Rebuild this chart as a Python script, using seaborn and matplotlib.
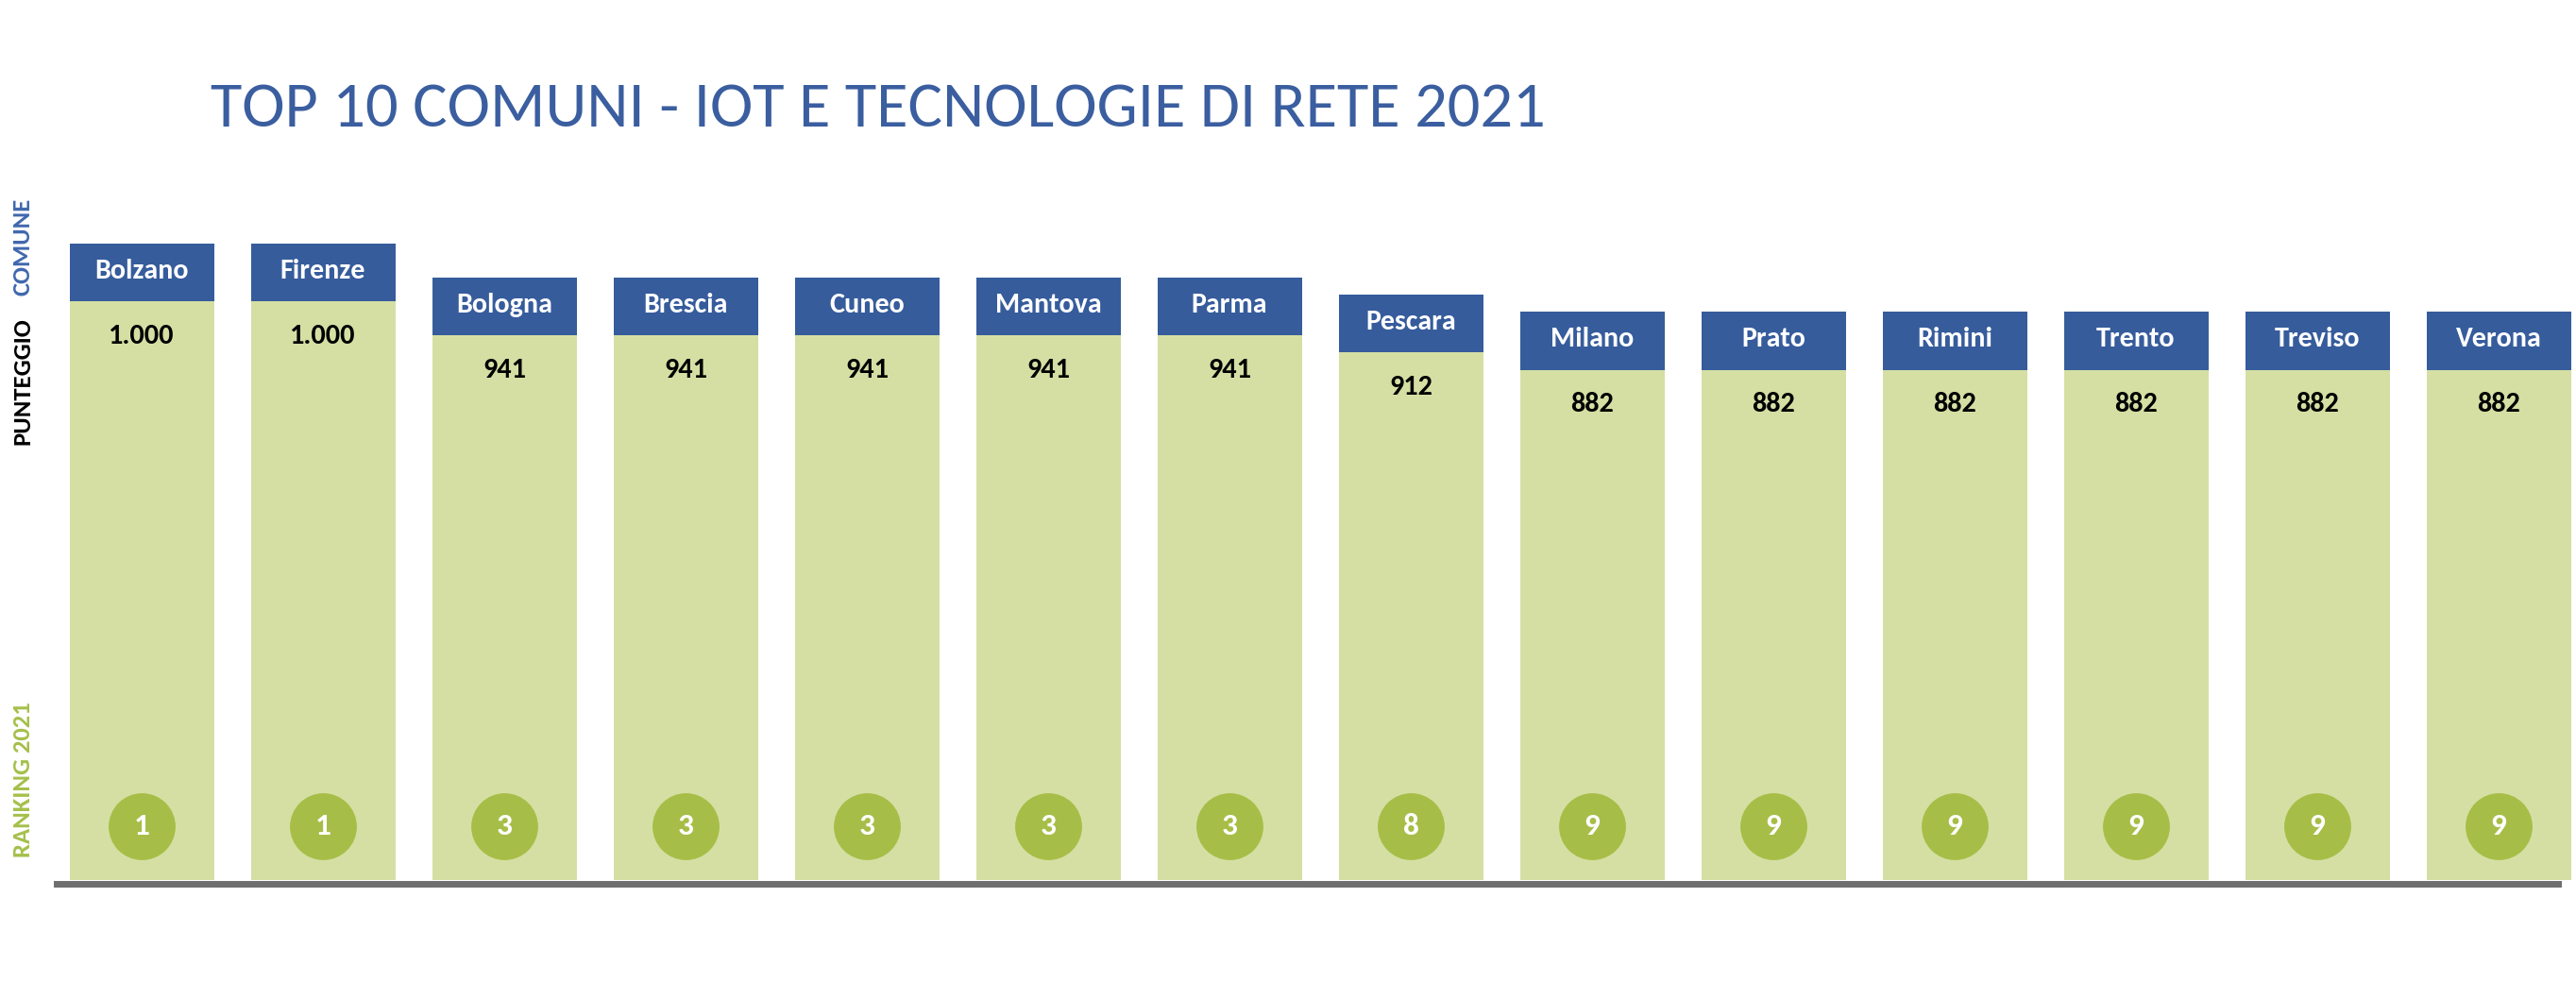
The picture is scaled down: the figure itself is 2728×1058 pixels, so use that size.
import numpy as np
import pandas as pd
import matplotlib
matplotlib.use("Agg")
import matplotlib.pyplot as plt
import seaborn as sns
from matplotlib import font_manager as fm

# ---------------- data ----------------
cities = ["Bolzano", "Firenze", "Bologna", "Brescia", "Cuneo", "Mantova", "Parma",
          "Pescara", "Milano", "Prato", "Rimini", "Trento", "Treviso", "Verona"]
scores = [1000, 1000, 941, 941, 941, 941, 941, 912, 882, 882, 882, 882, 882, 882]
ranks = [1, 1, 3, 3, 3, 3, 3, 8, 9, 9, 9, 9, 9, 9]
title_text = "TOP 10 COMUNI - IOT E TECNOLOGIE DI RETE 2021"
side_labels = ["COMUNE", "PUNTEGGIO", "RANKING 2021"]

# ---------------- style ----------------
sns.set_style("white")
avail = {f.name for f in fm.fontManager.ttflist}
def pick(cands):
    for c in cands:
        if c in avail:
            return c
    return "DejaVu Sans"
narrow = pick(["Carlito", "Liberation Sans Narrow", "Roboto Condensed", "Lato", "Open Sans"])
plt.rcParams["font.family"] = [narrow, "DejaVu Sans"]

GREEN = "#D5DFA3"
BLUE = "#365C9C"
CIRCLE = "#A6BE47"
TITLE_BLUE = "#3A5E9F"
SIDE_BLUE = "#4068AE"
SIDE_GREEN = "#A5C04A"
GRAY = "#6E6E6E"
HEADER = 100  # header band height in score units
CIRC_Y = 93

df = pd.DataFrame({"city": cities, "score": scores, "rank": ranks})
df["total"] = df["score"] + HEADER
df["circ"] = CIRC_Y

W, H = 2728, 1058
fig = plt.figure(figsize=(W / 100, H / 100), dpi=100)
renderer = fig.canvas.get_renderer()

def fit(txt, target, **kw):
    t = fig.text(0, 0, txt, fontsize=100, **kw)
    w = t.get_window_extent(renderer).width
    t.remove()
    return 100 * target / w

title_fs = fit(title_text, 1413)
head_fs = fit("Pescara", 96, fontweight="bold")
val_fs = fit("912", 46, fontweight="bold")
side_fs = fit("RANKING 2021", 165, fontweight="bold")
circ_fs = val_fs * 1.1

# layout: slot 192 px, first bar center 150 px; y: 0.6127 px per unit
slot, c0 = 192.0, 150.0
left_px = c0 - slot / 2
ppu = 0.6127
ymin, ymax = -5.7, 1200
ax = fig.add_axes([left_px / W, 122.5 / H, slot * len(cities) / W,
                   (ymax - ymin) * ppu / H])
bw = 153 / slot

sns.barplot(data=df, x="city", y="total", color=BLUE, width=bw, saturation=1,
            linewidth=0, ax=ax)
sns.barplot(data=df, x="city", y="score", color=GREEN, width=bw, saturation=1,
            linewidth=0, ax=ax)
sns.stripplot(data=df, x="city", y="circ", color=CIRCLE, jitter=False, size=51,
              linewidth=0, ax=ax, zorder=3)

for i, (c, s, r) in enumerate(zip(cities, scores, ranks)):
    ax.text(i, s + HEADER * 0.53, c, ha="center", va="center", color="white",
            fontsize=head_fs, fontweight="bold", zorder=4)
    ax.text(i, s - 60, f"{s:,}".replace(",", "."), ha="center", va="center",
            color="black", fontsize=val_fs, fontweight="bold", zorder=4)
    ax.text(i, CIRC_Y, str(r), ha="center", va="center", color="white",
            fontsize=circ_fs, fontweight="bold", zorder=5)

ax.set_xlim(-0.5, len(cities) - 0.5)
ax.set_ylim(ymin, ymax)
ax.set_xlabel("")
ax.set_ylabel("")
ax.set_xticks([])
ax.set_yticks([])
sns.despine(ax=ax, left=True, top=True, right=True)
ax.spines["bottom"].set_bounds(-bw / 2 - 0.07, len(cities) - 1 + bw / 2 - 0.07)
ax.spines["bottom"].set_linewidth(5)
ax.spines["bottom"].set_color(GRAY)
ax.spines["bottom"].set_zorder(6)
ax.patch.set_alpha(0)

fig.text(223 / W, 1 - 134 / H, title_text, ha="left", va="baseline",
         color=TITLE_BLUE, fontsize=title_fs)

side_pos = [261, 404, 826]
side_cols = [SIDE_BLUE, "black", SIDE_GREEN]
for lab, yp, col in zip(side_labels, side_pos, side_cols):
    fig.text(24 / W, 1 - yp / H, lab, rotation=90, ha="center", va="center",
             color=col, fontsize=side_fs, fontweight="bold")

fig.savefig("out.png", dpi=100, facecolor="white")
